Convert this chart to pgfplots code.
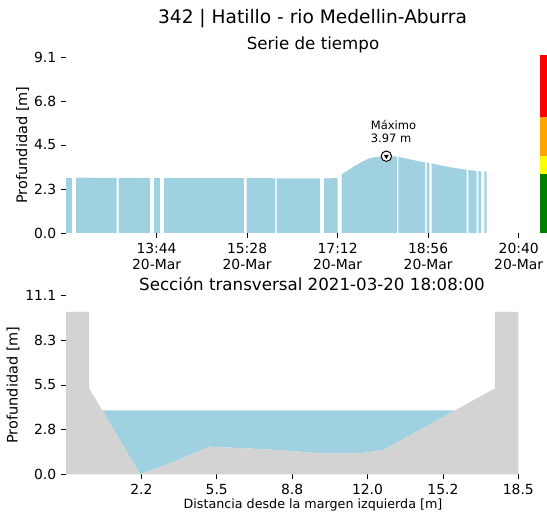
\documentclass[border=0pt]{standalone}
\usepackage{fontspec}
\setmainfont{DejaVu Sans}
\usepackage{pgfplots}
\pgfplotsset{compat=1.18}
\definecolor{water}{HTML}{9FD1E0}
\definecolor{ground}{HTML}{D3D3D3}
\definecolor{cbgreen}{HTML}{008000}
\definecolor{cborange}{HTML}{FFA500}
\definecolor{cbyellow}{HTML}{FFFF00}
\definecolor{cbred}{HTML}{FF0000}

\pgfplotsset{
  mpl/.style={
    scale only axis,
    anchor=south west,
    axis line style={draw=none},
    tick pos=left,
    tick align=outside,
    major tick length=4.8pt,
    tick style={black, line width=0.8pt},
    tick label style={font=\fontsize{13.9}{16.6}\selectfont, inner sep=0pt},
    yticklabel style={xshift=-4.8pt},
    xticklabel style={yshift=-4.8pt},
    clip=false,
  }
}

\begin{document}
\begin{tikzpicture}[x=1pt,y=1pt]
\useasboundingbox (0,0) rectangle (547,519);
\node[anchor=base, inner sep=0pt, font=\fontsize{18.6}{22}\selectfont] at (312.5,495) {342 | Hatillo - rio Medellin-Aburra};
\node[anchor=base, inner sep=0pt, font=\fontsize{16.67}{20}\selectfont] at (313,469.7) {Serie de tiempo};
\node[anchor=base, inner sep=0pt, font=\fontsize{16.67}{20}\selectfont] at (312,228.3) {Sección transversal 2021-03-20 18:08:00};
\node[anchor=base, inner sep=0pt, font=\fontsize{12.7}{15}\selectfont] at (313,10.7) {Distancia desde la margen izquierda [m]};

% ---------------- time series ----------------
\begin{axis}[mpl, at={(66pt,286pt)}, width=452.7pt, height=176pt,
  xmin=720, xmax=1240, ymin=0, ymax=9.1,
  xtick={824,928,1032,1136,1240},
  xticklabels={{13:44\\20-Mar},{15:28\\20-Mar},{17:12\\20-Mar},{18:56\\20-Mar},{20:40\\20-Mar}},
  xticklabel style={align=center},
  ytick={0,2.275,4.55,6.825,9.1},
  yticklabels={0.0,2.3,4.5,6.8,9.1},
  ylabel={Profundidad [m]},
  every axis y label/.style={at={(axis description cs:-0.0861,0.5)}, anchor=base, rotate=90, inner sep=0pt, font=\fontsize{14.5}{17}\selectfont},
]
\addplot[fill=water, draw=none] coordinates {(720,2.86) (726.9,2.86)} \closedcycle;
\addplot[fill=water, draw=none] coordinates {(731.5,2.86) (778.2,2.85)} \closedcycle;
\addplot[fill=water, draw=none] coordinates {(780.5,2.85) (816.5,2.84)} \closedcycle;
\addplot[fill=water, draw=none] coordinates {(821.1,2.84) (828.0,2.84)} \closedcycle;
\addplot[fill=water, draw=none] coordinates {(832.6,2.84) (924.8,2.84)} \closedcycle;
\addplot[fill=water, draw=none] coordinates {(927.6,2.84) (960.1,2.83)} \closedcycle;
\addplot[fill=water, draw=none] coordinates {(962.0,2.83) (1011.8,2.82)} \closedcycle;
\addplot[fill=water, draw=none] coordinates {(1016.4,2.82) (1032.1,2.84)} \closedcycle;
\addplot[fill=water, draw=none] coordinates {(1036.7,3.03) (1040,3.13) (1045,3.27) (1052,3.48) (1060,3.68) (1067,3.83) (1073,3.91) (1079,3.95) (1088,3.97) (1095,3.96) (1100.2,3.95)} \closedcycle;
\addplot[fill=water, draw=none] coordinates {(1101.7,3.94) (1110,3.86) (1120,3.76) (1132.4,3.65)} \closedcycle;
\addplot[fill=water, draw=none] coordinates {(1134.3,3.64) (1137.3,3.62)} \closedcycle;
\addplot[fill=water, draw=none] coordinates {(1140.1,3.60) (1145,3.55) (1155,3.45) (1168,3.35) (1180.3,3.27)} \closedcycle;
\addplot[fill=water, draw=none] coordinates {(1182.1,3.26) (1191.7,3.21)} \closedcycle;
\addplot[fill=water, draw=none] coordinates {(1193.6,3.20) (1196.7,3.19)} \closedcycle;
\addplot[fill=water, draw=none] coordinates {(1200.5,3.18) (1203.2,3.17)} \closedcycle;
% alert colour bar
\addplot[fill=cbred, draw=none] coordinates {(1264.5,9.2) (1272.5,9.2)} \closedcycle;
\addplot[fill=cborange, draw=none] coordinates {(1264.5,6.0) (1272.5,6.0)} \closedcycle;
\addplot[fill=cbyellow, draw=none] coordinates {(1264.5,4.0) (1272.5,4.0)} \closedcycle;
\addplot[fill=cbgreen, draw=none] coordinates {(1264.5,3.05) (1272.5,3.05)} \closedcycle;
% maximum marker
\addplot[only marks, mark=*, mark size=5.2pt, mark options={fill=white, draw=black, line width=1pt}] coordinates {(1088,3.97)};
\addplot[only marks, mark=triangle*, mark size=2.4pt, mark options={rotate=180, fill=black, draw=black}] coordinates {(1088,3.97)};
\node[anchor=base west, inner sep=0pt, xshift=-15.7pt, yshift=26.3pt, font=\fontsize{11.5}{13}\selectfont] at (axis cs:1088,3.97) {Máximo};
\node[anchor=base west, inner sep=0pt, xshift=-15.7pt, yshift=13.9pt, font=\fontsize{11.5}{13}\selectfont] at (axis cs:1088,3.97) {3.97 m};
\end{axis}

% ---------------- cross section ----------------
\begin{axis}[mpl, at={(66pt,44.7pt)}, width=452.3pt, height=178.6pt,
  xmin=-1, xmax=18.5, ymin=0, ymax=11.1,
  xtick={2.25,5.5,8.75,12,15.25,18.5},
  xticklabels={2.2,5.5,8.8,12.0,15.2,18.5},
  ytick={0,2.775,5.55,8.325,11.1},
  yticklabels={0.0,2.8,5.5,8.3,11.1},
  ylabel={Profundidad [m]},
  every axis y label/.style={at={(axis description cs:-0.1068,0.5)}, anchor=base, rotate=90, inner sep=0pt, font=\fontsize{14.5}{17}\selectfont},
]
\addplot[fill=water, draw=none] coordinates {(0.565,3.97) (2.2,0) (3.7,0.8) (5.15,1.72) (8.18,1.51) (9.98,1.30) (11.63,1.30) (12.68,1.51) (15.77,3.97)} -- cycle;
\addplot[fill=ground, draw=none] coordinates {(-1,0) (-1,10.09) (0,10.09) (0,5.34) (2.2,0) (3.7,0.8) (5.15,1.72) (8.18,1.51) (9.98,1.30) (11.63,1.30) (12.68,1.51) (17.49,5.34) (17.49,10.09) (18.5,10.09) (18.5,0)} -- cycle;
\end{axis}
\end{tikzpicture}
\end{document}
